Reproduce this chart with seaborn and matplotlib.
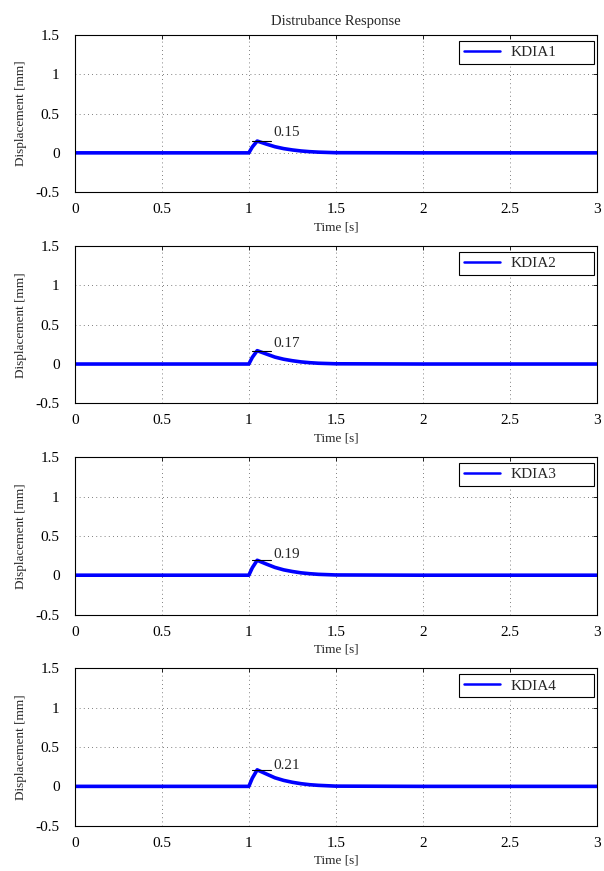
import numpy as np
import pandas as pd
import seaborn as sns
import matplotlib
matplotlib.use('Agg')
import matplotlib.pyplot as plt

# Dados (pontos-chave da resposta ao distúrbio)
tempo = [0.0, 0.5, 1.0, 1.02, 1.048, 1.1, 1.15, 1.2, 1.25, 1.3, 1.35, 1.4, 1.5, 2.0, 2.5, 3.0]
kdia1 = [0, 0, 0, 0.075, 0.15, 0.112, 0.078, 0.054, 0.037, 0.024, 0.015, 0.009, 0.002, 0, 0, 0]
kdia2 = [0, 0, 0, 0.085, 0.17, 0.128, 0.088, 0.061, 0.042, 0.027, 0.017, 0.010, 0.003, 0, 0, 0]
kdia3 = [0, 0, 0, 0.095, 0.19, 0.142, 0.099, 0.068, 0.047, 0.030, 0.019, 0.011, 0.003, 0, 0, 0]
kdia4 = [0, 0, 0, 0.105, 0.21, 0.158, 0.109, 0.076, 0.052, 0.034, 0.021, 0.013, 0.003, 0, 0, 0]

nomes = ['KDIA1', 'KDIA2', 'KDIA3', 'KDIA4']
picos = [0.15, 0.17, 0.19, 0.21]
series = [kdia1, kdia2, kdia3, kdia4]

xticks = [0, 0.5, 1, 1.5, 2, 2.5, 3]
xtick_labels = ['0', '0.5', '1', '1.5', '2', '2.5', '3']
yticks = [-0.5, 0, 0.5, 1, 1.5]
ytick_labels = ['-0.5', '0', '0.5', '1', '1.5']

sns.set_theme(style='white')
plt.rcParams['font.family'] = ['Liberation Serif', 'DejaVu Serif']

fig, axes = plt.subplots(4, 1, figsize=(6.04, 8.71), dpi=100)
fig.subplots_adjust(left=0.124, right=0.988, top=0.960, bottom=0.052, hspace=0.342)

for ax, nome, valores, pico in zip(axes, nomes, series, picos):
    df = pd.DataFrame({'Tempo': tempo, 'Deslocamento': valores})
    sns.lineplot(data=df, x='Tempo', y='Deslocamento', ax=ax, color='#0000ff',
                 linewidth=2.6, label=nome)

    # marcação do pico
    ax.plot([1.02, 1.13], [pico, pico], color='black', linewidth=0.8)
    ax.text(1.14, 0.26, f'{pico:.2f}', fontsize=11, va='center', ha='left')

    ax.set_xlim(0, 3)
    ax.set_ylim(-0.5, 1.5)
    ax.set_xticks(xticks)
    ax.set_xticklabels(xtick_labels, fontsize=11)
    ax.set_yticks(yticks)
    ax.set_yticklabels(ytick_labels, fontsize=11)
    ax.set_xlabel('Time [s]', fontsize=9.5, labelpad=3.5)
    ax.set_ylabel('Displacement [mm]', fontsize=9.5, labelpad=6)

    ax.grid(True, color='#555555', linestyle=(0, (1, 4)), linewidth=0.6)
    ax.tick_params(direction='in', length=3, width=0.6, top=True, right=True,
                   colors='black')
    ax.tick_params(axis='y', pad=11)
    ax.tick_params(axis='x', pad=8)
    for s in ax.spines.values():
        s.set_color('black')
        s.set_linewidth(0.8)

    leg = ax.legend(loc='upper left', bbox_to_anchor=(0.7365, 0.81, 0.258, 0.152),
                    mode='expand', fontsize=11, fancybox=False, framealpha=1,
                    edgecolor='black', handlelength=2.35, handletextpad=0.72,
                    borderpad=0.3, borderaxespad=0)
    leg.get_frame().set_linewidth(0.8)
    for linha in leg.get_lines():
        linha.set_linewidth(1.8)

axes[0].set_title('Distrubance Response', fontsize=10.5, pad=7)

plt.savefig('out.png', dpi=100)
